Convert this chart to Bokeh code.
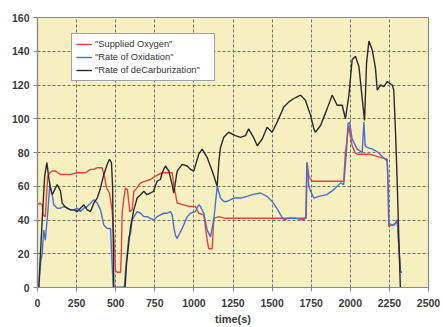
from bokeh.plotting import figure
from bokeh.models import Legend, LegendItem, FixedTicker, Range1d
from bokeh.embed import file_html
from bokeh.resources import INLINE

# Supplied oxygen (red)
t_oxygen = [0, 15, 30, 36, 50, 58, 66, 79, 95, 115, 130, 147, 180, 211, 254, 280, 307, 339,
            360, 382, 413, 428, 441, 460, 477, 488, 499, 510, 531, 536, 541, 552, 563, 575,
            590, 605, 616, 627, 659, 690, 722, 754, 797, 830, 861, 871, 893, 936, 970, 1010,
            1031, 1063, 1085, 1095, 1117, 1127, 1159, 1200, 1300, 1400, 1500, 1600, 1700,
            1718, 1724, 1735, 1746, 1760, 1800, 1850, 1900, 1958, 1969, 1985, 1991, 2000,
            2012, 2030, 2044, 2080, 2120, 2160, 2200, 2236, 2242, 2246, 2260, 2280, 2300,
            2310, 2321, 2330]
oxygen = [49, 50, 49, 43, 42, 55, 66, 68, 69, 69, 68, 67, 67, 67, 68, 68, 68, 70,
          70, 71, 71, 66, 59, 56, 46, 30, 10, 9, 9, 20, 44, 53, 59, 58,
          45, 46, 57, 58, 62, 63, 64, 66, 68, 68, 68, 61, 50, 49, 48, 48,
          44, 43, 28, 23, 23, 41, 42, 41, 41, 41, 41, 41, 41,
          41, 74, 66, 64, 63, 63, 63, 63, 63, 80, 92, 96, 90,
          84, 80, 79, 79, 79, 78, 77, 76, 60, 36, 37, 37, 40,
          25, 9, 9]

# Rate of oxidation (blue)
t_oxid = [8, 20, 30, 40, 50, 66, 79, 94, 104, 126, 147, 168, 190, 211, 232, 254, 275, 296,
          318, 339, 360, 382, 403, 424, 446, 467, 473, 484, 490, 555, 563, 584, 595, 605,
          637, 659, 680, 701, 722, 744, 765, 786, 808, 830, 850, 861, 871, 882, 893, 914,
          925, 957, 978, 1010, 1031, 1042, 1063, 1085, 1106, 1127, 1149, 1170, 1191, 1213,
          1255, 1300, 1340, 1373, 1426, 1468, 1500, 1530, 1554, 1575, 1600, 1650, 1703,
          1715, 1722, 1735, 1746, 1767, 1800, 1850, 1895, 1938, 1958, 1975, 1985, 1995,
          2012, 2044, 2076, 2087, 2095, 2108, 2140, 2180, 2210, 2236, 2242, 2246, 2270,
          2290, 2300, 2310, 2321, 2330]
oxid = [0, 15, 20, 34, 28, 45, 61, 55, 49, 47, 47, 48, 47, 46, 46, 47, 45, 47,
        48, 50, 52, 50, 46, 37, 35, 35, 22, 0, 0, 0, 10, 30, 32, 40,
        45, 44, 42, 42, 41, 40, 42, 43, 44, 44, 45, 43, 36, 31, 29, 33,
        35, 42, 44, 45, 49, 48, 44, 34, 30, 40, 60, 53, 51, 51,
        53, 53, 54, 55, 56, 54, 51, 47, 43, 40, 41, 41, 40,
        42, 74, 60, 57, 53, 54, 55, 58, 62, 61, 80, 97, 98,
        88, 82, 80, 98, 84, 83, 82, 80, 77, 75, 60, 38, 37,
        38, 40, 25, 9, 9]

# Rate of decarburization (black)
t_decarb = [8, 30, 46, 60, 72, 83, 94, 110, 126, 147, 158, 175, 190, 211, 232, 254, 275,
            296, 318, 339, 360, 382, 403, 424, 446, 460, 473, 480, 488, 560, 570, 595, 616,
            637, 659, 680, 700, 722, 742, 765, 786, 797, 818, 840, 861, 871, 893, 925, 957,
            978, 999, 1031, 1053, 1085, 1117, 1149, 1160, 1170, 1191, 1222, 1265, 1298,
            1330, 1350, 1381, 1405, 1437, 1468, 1500, 1532, 1575, 1607, 1639, 1660, 1682,
            1713, 1746, 1767, 1777, 1810, 1852, 1884, 1916, 1948, 1969, 1991, 2012, 2033,
            2055, 2076, 2091, 2104, 2119, 2140, 2161, 2172, 2193, 2215, 2236, 2268, 2278,
            2290, 2300, 2310, 2320]
decarb = [0, 40, 66, 74, 65, 59, 55, 58, 61, 57, 50, 48, 47, 46, 46, 45, 47,
          49, 46, 45, 50, 53, 59, 67, 73, 76, 74, 60, 0, 0, 15, 36, 46,
          53, 55, 57, 55, 56, 57, 63, 64, 68, 72, 69, 61, 56, 69, 73, 72,
          70, 69, 79, 82, 77, 69, 60, 75, 83, 89, 92, 90, 89,
          90, 94, 89, 84, 88, 95, 92, 98, 107, 110, 112, 113, 114,
          111, 102, 94, 92, 96, 106, 114, 108, 108, 100, 114, 135, 137,
          131, 112, 99, 133, 146, 141, 130, 117, 120, 119, 122, 120, 117,
          90, 62, 30, 0]

x_ticks = [0, 250, 500, 750, 1000, 1250, 1500, 1750, 2000, 2250, 2500]
y_ticks = [0, 20, 40, 60, 80, 100, 120, 140, 160]

p = figure(width=443, height=327, output_backend="svg", toolbar_location=None,
           x_range=Range1d(0, 2500), y_range=Range1d(0, 160),
           min_border_left=37, min_border_right=15, min_border_top=17,
           min_border_bottom=39)

p.background_fill_color = "#F6F0C0"
p.border_fill_color = "white"
p.outline_line_color = "#8a8a8a"
p.outline_line_width = 1.2

for ax in (p.xaxis, p.yaxis):
    ax.major_label_text_font = "Liberation Sans"
    ax.major_label_text_font_style = "bold"
    ax.major_label_text_font_size = "10.5px"
    ax.major_label_text_color = "#3a3a3a"
    ax.axis_line_color = "#8a8a8a"
    ax.axis_line_width = 1.2
    ax.major_tick_line_color = "#8a8a8a"
    ax.major_tick_out = 4
    ax.major_tick_in = 0
    ax.minor_tick_line_color = None
    ax.major_label_standoff = 4

p.xaxis.major_label_standoff = 7
p.xaxis.ticker = FixedTicker(ticks=x_ticks)
p.yaxis.ticker = FixedTicker(ticks=y_ticks)
p.xaxis.axis_label = "time(s)"
p.xaxis.axis_label_text_font = "Liberation Sans"
p.xaxis.axis_label_text_font_style = "bold"
p.xaxis.axis_label_text_font_size = "11px"
p.xaxis.axis_label_text_color = "#3a3a3a"
p.xaxis.axis_label_standoff = 3

for g in (p.xgrid, p.ygrid):
    g.grid_line_color = "#5a5a5a"
    g.grid_line_dash = "3 2"
    g.grid_line_width = 1
    g.grid_line_alpha = 0.85

r_ox = p.line(t_oxygen, oxygen, line_color="#E8413B", line_width=1.4)
r_bl = p.line(t_oxid, oxid, line_color="#4A6ED0", line_width=1.4)
r_dc = p.line(t_decarb, decarb, line_color="#2a2a2a", line_width=1.4)

legend = Legend(items=[
    LegendItem(label='"Supplied Oxygen"', renderers=[r_ox]),
    LegendItem(label='"Rate of Oxidation"', renderers=[r_bl]),
    LegendItem(label='"Rate of deCarburization"', renderers=[r_dc]),
], location=(34, 206))
legend.label_text_font = "Liberation Sans"
legend.label_text_font_size = "9.3px"
legend.label_text_color = "#333333"
legend.label_height = 12
legend.label_width = 115
legend.glyph_height = 12
legend.glyph_width = 16
legend.spacing = 1
legend.padding = 4
legend.margin = 0
legend.label_standoff = 3
legend.border_line_color = "#444444"
legend.border_line_width = 1.2
legend.background_fill_color = "white"
legend.background_fill_alpha = 1
p.add_layout(legend, "center")

open("out.html", "w").write(file_html(p, INLINE))
